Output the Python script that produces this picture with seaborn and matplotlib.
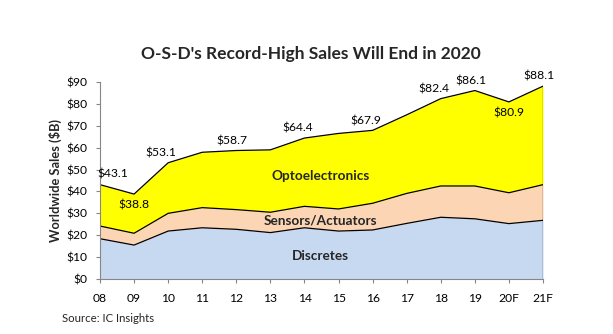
import matplotlib
matplotlib.use("Agg")
import matplotlib.pyplot as plt
import seaborn as sns
import numpy as np
import pandas as pd

years = ["08", "09", "10", "11", "12", "13", "14", "15", "16", "17", "18", "19", "20F", "21F"]
discretes = [18.4, 15.5, 21.9, 23.4, 22.7, 21.2, 23.4, 21.9, 22.4, 25.4, 28.2, 27.5, 25.3, 26.8]
sensors = [5.8, 5.4, 8.1, 9.2, 9.0, 9.3, 9.8, 10.1, 12.2, 13.7, 14.3, 15.0, 14.1, 16.3]
opto = [18.9, 17.9, 23.1, 25.3, 27.0, 28.5, 31.2, 34.5, 33.3, 35.9, 39.9, 43.6, 41.5, 45.0]
labeled_years = ["08", "09", "10", "12", "14", "16", "18", "19", "20F", "21F"]
below_years = ["09", "20F"]
series_names = ["Discretes", "Sensors/Actuators", "Optoelectronics"]
yticks = [0, 10, 20, 30, 40, 50, 60, 70, 80, 90]

sns.set_theme(style="white")
plt.rcParams["font.family"] = ["Lato", "DejaVu Sans"]

colors = ["#C6D9F0", "#FCD5B5", "#FFFF00"]

x = np.arange(len(years))
df = pd.DataFrame({"x": x, "year": years, "Discretes": discretes,
                   "Sensors/Actuators": sensors, "Optoelectronics": opto})
df["s1"] = df["Discretes"]
df["s2"] = df["s1"] + df["Sensors/Actuators"]
df["s3"] = df["s2"] + df["Optoelectronics"]

fig = plt.figure(figsize=(6.13, 3.34), dpi=100)
ax = fig.add_axes([100 / 613, 55 / 334, 443 / 613, 197 / 334])

ax.stackplot(df["x"], df["Discretes"], df["Sensors/Actuators"], df["Optoelectronics"],
             colors=colors, linewidth=0)
for col in ["s1", "s2", "s3"]:
    sns.lineplot(data=df, x="x", y=col, ax=ax, color="black", linewidth=0.9)
ax.plot([x[-1], x[-1]], [0, df["s3"].iloc[-1]], color="black", linewidth=0.9)

# total labels
for i, yr in enumerate(years):
    if yr not in labeled_years:
        continue
    tot = df["s3"].iloc[i]
    txt = f"${tot:.1f}"
    if yr == "08":
        ax.annotate(txt, (x[i], tot), xytext=(-2, 4), textcoords="offset points",
                    ha="left", va="bottom", fontsize=8.7, color="black")
    elif yr in below_years:
        ax.annotate(txt, (x[i], tot), xytext=(0, -4), textcoords="offset points",
                    ha="center", va="top", fontsize=8.7, color="black")
    else:
        dx = -5 if yr in ["10", "14", "16", "18"] else -3
        ax.annotate(txt, (x[i], tot), xytext=(dx, 3), textcoords="offset points",
                    ha="center", va="bottom", fontsize=8.7, color="black")

# series labels
ax.text(6.46, 47.1, series_names[2], ha="center", va="center", fontsize=9.8, fontweight="bold")
ax.text(6.46, 26.5, series_names[1], ha="center", va="center", fontsize=9.8, fontweight="bold")
ax.text(6.46, 10.5, series_names[0], ha="center", va="center", fontsize=9.8, fontweight="bold")

ax.set_xlim(0, len(years) - 1)
ax.set_ylim(0, 90)
ax.set_xticks(x)
ax.set_xticklabels(years)
ax.set_yticks(yticks)
ax.set_yticklabels([f"${v}" for v in yticks])
ax.tick_params(axis="both", which="both", direction="out", length=3, width=0.8,
               color="#868686", labelsize=8.7, labelcolor="black", left=True, bottom=True)
ax.tick_params(axis="y", pad=6)
ax.tick_params(axis="x", pad=7)
for s in ["top", "right"]:
    ax.spines[s].set_visible(False)
for s in ["left", "bottom"]:
    ax.spines[s].set_color("#868686")
    ax.spines[s].set_linewidth(0.8)
ax.set_xlabel("")
ax.set_ylabel("Worldwide Sales ($B)", fontsize=9.3, fontweight="bold", labelpad=3)
ax.grid(False)
ax.set_facecolor("none")

fig.text(311 / 613, 1 - 54 / 334, "O-S-D's Record-High Sales Will End in 2020",
         ha="center", va="center", fontsize=12.5, fontweight="bold")
fig.text(62 / 613, 1 - 318 / 334, "Source: IC Insights", ha="left", va="center", fontsize=8.2)

fig.savefig("out.png", dpi=100)
